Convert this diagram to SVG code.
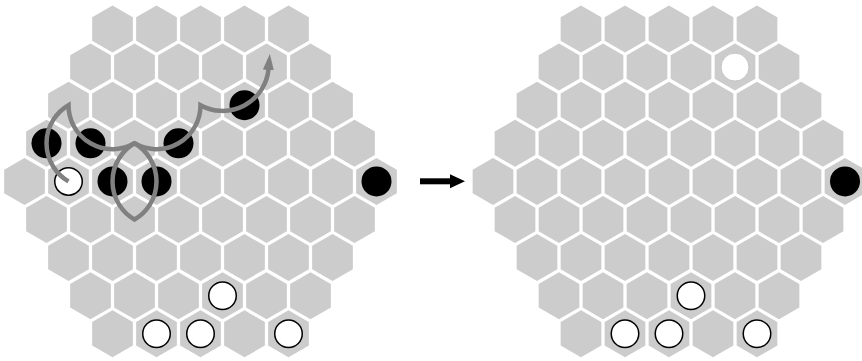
<svg xmlns="http://www.w3.org/2000/svg" xmlns:xlink="http://www.w3.org/1999/xlink" width="862" height="361" viewBox="0 0 862 361">
<style>
.cell{fill:#cccccc}
.black{fill:#000000}
.white{fill:#ffffff;stroke:#000000;stroke-width:1.5}
.white2{fill:#ffffff;stroke:#c4c4c4;stroke-width:1}
.path{fill:none;stroke:#808080;stroke-width:4.5;stroke-linejoin:miter;stroke-miterlimit:10}
</style>
<defs>
<polygon id="h" class="cell" points="0,-23.5 20.35,-11.75 20.35,11.75 0,23.5 -20.35,11.75 -20.35,-11.75"/>
<marker id="ah" markerUnits="userSpaceOnUse" markerWidth="16" markerHeight="12" viewBox="0 0 16 12" refX="1" refY="6" orient="auto">
<path d="M0,0.5 L16,6 L0,11.5 z" fill="#808080"/>
</marker>
<g id="board">
<use xlink:href="#h" href="#h" x="-88" y="-152.4"/><use xlink:href="#h" href="#h" x="-44" y="-152.4"/><use xlink:href="#h" href="#h" x="0" y="-152.4"/><use xlink:href="#h" href="#h" x="44" y="-152.4"/><use xlink:href="#h" href="#h" x="88" y="-152.4"/>
<use xlink:href="#h" href="#h" x="-110" y="-114.3"/><use xlink:href="#h" href="#h" x="-66" y="-114.3"/><use xlink:href="#h" href="#h" x="-22" y="-114.3"/><use xlink:href="#h" href="#h" x="22" y="-114.3"/><use xlink:href="#h" href="#h" x="66" y="-114.3"/><use xlink:href="#h" href="#h" x="110" y="-114.3"/>
<use xlink:href="#h" href="#h" x="-132" y="-76.2"/><use xlink:href="#h" href="#h" x="-88" y="-76.2"/><use xlink:href="#h" href="#h" x="-44" y="-76.2"/><use xlink:href="#h" href="#h" x="0" y="-76.2"/><use xlink:href="#h" href="#h" x="44" y="-76.2"/><use xlink:href="#h" href="#h" x="88" y="-76.2"/><use xlink:href="#h" href="#h" x="132" y="-76.2"/>
<use xlink:href="#h" href="#h" x="-154" y="-38.1"/><use xlink:href="#h" href="#h" x="-110" y="-38.1"/><use xlink:href="#h" href="#h" x="-66" y="-38.1"/><use xlink:href="#h" href="#h" x="-22" y="-38.1"/><use xlink:href="#h" href="#h" x="22" y="-38.1"/><use xlink:href="#h" href="#h" x="66" y="-38.1"/><use xlink:href="#h" href="#h" x="110" y="-38.1"/><use xlink:href="#h" href="#h" x="154" y="-38.1"/>
<use xlink:href="#h" href="#h" x="-176" y="0"/><use xlink:href="#h" href="#h" x="-132" y="0"/><use xlink:href="#h" href="#h" x="-88" y="0"/><use xlink:href="#h" href="#h" x="-44" y="0"/><use xlink:href="#h" href="#h" x="0" y="0"/><use xlink:href="#h" href="#h" x="44" y="0"/><use xlink:href="#h" href="#h" x="88" y="0"/><use xlink:href="#h" href="#h" x="132" y="0"/><use xlink:href="#h" href="#h" x="176" y="0"/>
<use xlink:href="#h" href="#h" x="-154" y="38.1"/><use xlink:href="#h" href="#h" x="-110" y="38.1"/><use xlink:href="#h" href="#h" x="-66" y="38.1"/><use xlink:href="#h" href="#h" x="-22" y="38.1"/><use xlink:href="#h" href="#h" x="22" y="38.1"/><use xlink:href="#h" href="#h" x="66" y="38.1"/><use xlink:href="#h" href="#h" x="110" y="38.1"/><use xlink:href="#h" href="#h" x="154" y="38.1"/>
<use xlink:href="#h" href="#h" x="-132" y="76.2"/><use xlink:href="#h" href="#h" x="-88" y="76.2"/><use xlink:href="#h" href="#h" x="-44" y="76.2"/><use xlink:href="#h" href="#h" x="0" y="76.2"/><use xlink:href="#h" href="#h" x="44" y="76.2"/><use xlink:href="#h" href="#h" x="88" y="76.2"/><use xlink:href="#h" href="#h" x="132" y="76.2"/>
<use xlink:href="#h" href="#h" x="-110" y="114.3"/><use xlink:href="#h" href="#h" x="-66" y="114.3"/><use xlink:href="#h" href="#h" x="-22" y="114.3"/><use xlink:href="#h" href="#h" x="22" y="114.3"/><use xlink:href="#h" href="#h" x="66" y="114.3"/><use xlink:href="#h" href="#h" x="110" y="114.3"/>
<use xlink:href="#h" href="#h" x="-88" y="152.4"/><use xlink:href="#h" href="#h" x="-44" y="152.4"/><use xlink:href="#h" href="#h" x="0" y="152.4"/><use xlink:href="#h" href="#h" x="44" y="152.4"/><use xlink:href="#h" href="#h" x="88" y="152.4"/>
</g>
</defs>
<rect width="862" height="361" fill="#ffffff"/>

<g id="board-left" transform="translate(200.5,181.4)">
<use xlink:href="#board" href="#board"/>
<g id="L-b1"><circle class="black" cx="-154" cy="-38.1" r="15"/></g>
<g id="L-b2"><circle class="black" cx="-110" cy="-38.1" r="15"/></g>
<g id="L-b3"><circle class="black" cx="-22" cy="-38.1" r="15"/></g>
<g id="L-b4"><circle class="black" cx="44" cy="-76.2" r="15"/></g>
<g id="L-b5"><circle class="black" cx="-88" cy="0" r="15"/></g>
<g id="L-b6"><circle class="black" cx="-44" cy="0" r="15"/></g>
<g id="L-b7"><circle class="black" cx="176" cy="0" r="15"/></g>
<g id="L-w1"><circle class="white" cx="-132" cy="0" r="13.75"/></g>
<g id="L-w2"><circle class="white" cx="22" cy="114.3" r="13.75"/></g>
<g id="L-w3"><circle class="white" cx="-44" cy="152.4" r="13.75"/></g>
<g id="L-w4"><circle class="white" cx="0" cy="152.4" r="13.75"/></g>
<g id="L-w5"><circle class="white" cx="88" cy="152.4" r="13.75"/></g>
</g>

<g id="board-right" transform="translate(669,181.4)">
<use xlink:href="#board" href="#board"/>
<g id="R-w0"><circle class="white2" cx="66" cy="-114.3" r="14"/></g>
<g id="R-b1"><circle class="black" cx="176" cy="0" r="15"/></g>
<g id="R-w1"><circle class="white" cx="22" cy="114.3" r="13.75"/></g>
<g id="R-w2"><circle class="white" cx="-44" cy="152.4" r="13.75"/></g>
<g id="R-w3"><circle class="white" cx="0" cy="152.4" r="13.75"/></g>
<g id="R-w4"><circle class="white" cx="88" cy="152.4" r="13.75"/></g>
</g>

<g id="connectors">
<path class="path" d="M68.5,181.4 A44,44 0 0 1 68.5,105.2 A44,44 0 0 0 134.5,143.3 A44,44 0 0 0 200.5,105.2 A46,46 0 0 0 268.5,69" marker-end="url(#ah)"/>
<path class="path" d="M134.5,143.3 A44,44 0 0 0 134.5,219.5 A44,44 0 0 0 134.5,143.3"/>
<line x1="420" y1="181.3" x2="452" y2="181.3" stroke="#000000" stroke-width="6"/>
<polygon points="450,174.3 465,181.3 450,188.3" fill="#000000"/>
</g>
</svg>
